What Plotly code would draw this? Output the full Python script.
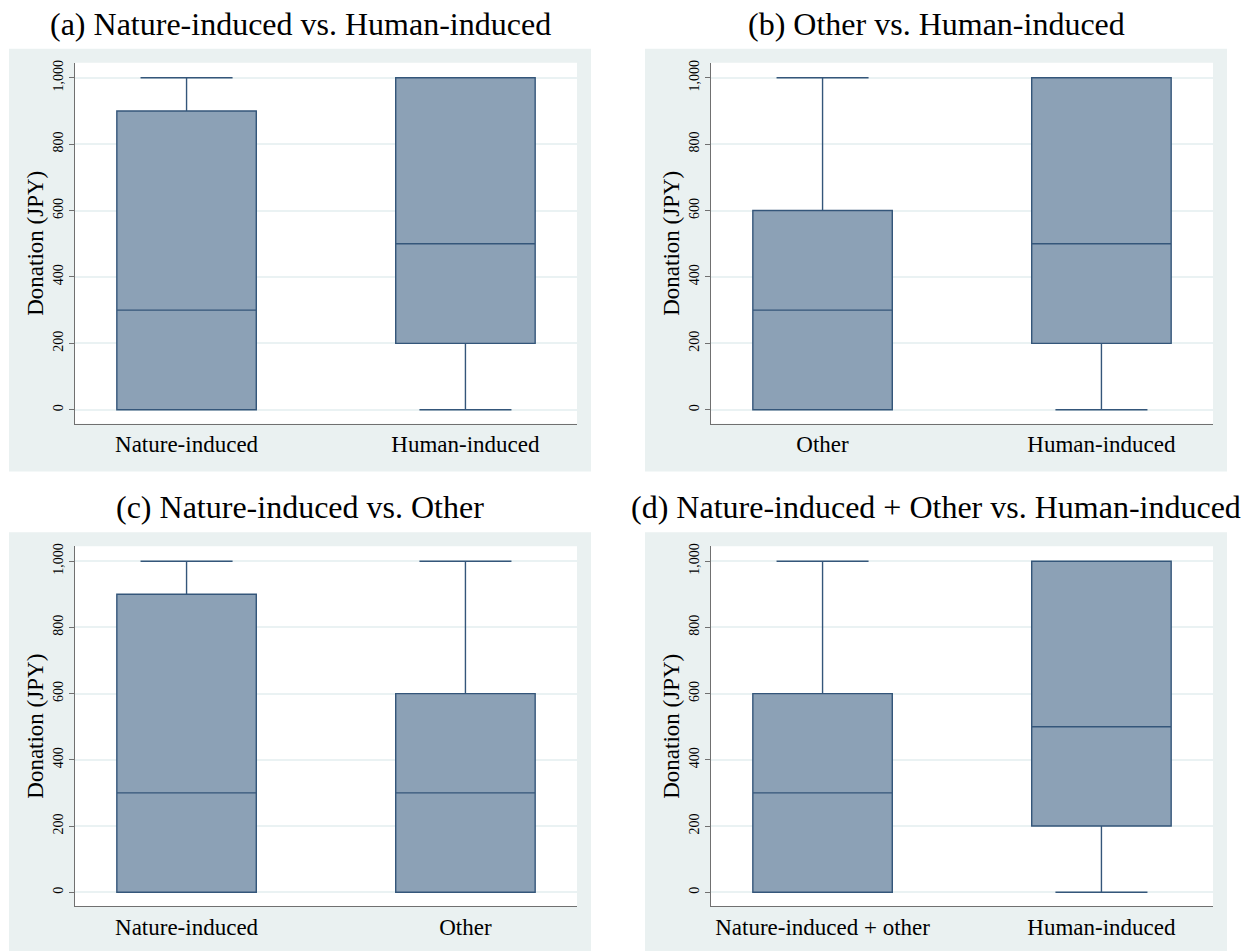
import plotly.graph_objects as go

# ---------------- data ----------------
panel_titles = [
    "(a) Nature-induced vs. Human-induced",
    "(b) Other vs. Human-induced",
    "(c) Nature-induced vs. Other",
    "(d) Nature-induced + Other vs. Human-induced",
]
panel_categories = [
    ["Nature-induced", "Human-induced"],
    ["Other", "Human-induced"],
    ["Nature-induced", "Other"],
    ["Nature-induced + other", "Human-induced"],
]
# box statistics per panel: [first box, second box]
q1_vals = [[0, 200], [0, 200], [0, 0], [0, 200]]
median_vals = [[300, 500], [300, 500], [300, 300], [300, 500]]
q3_vals = [[900, 1000], [600, 1000], [900, 600], [600, 1000]]
lower_vals = [[0, 0], [0, 0], [0, 0], [0, 0]]
upper_vals = [[1000, 1000], [1000, 1000], [1000, 1000], [1000, 1000]]

y_tickvals = [0, 200, 400, 600, 800, 1000]
y_ticktext = ["0", "200", "400", "600", "800", "1,000"]
y_title = "Donation (JPY)"

# ---------------- style ----------------
W, H = 1254, 951
FONT = "Liberation Serif"
BOX_FILL = "#8CA1B6"
BOX_LINE = "#34567A"
BG = "#EAF1F1"
GRID = "#EAF2F3"
AXIS = "#707070"

# pixel geometry of panels
bg_boxes = [(9, 46, 591, 470), (645, 46, 1227, 470), (9, 531, 591, 955), (645, 531, 1227, 955)]
plot_boxes = [(75, 60, 577, 422), (711, 60, 1213, 422), (75, 545, 577, 906), (711, 545, 1213, 906)]
title_y = [21, 21, 506, 506]

def px_x(x):
    return x / W

def px_y(y):
    return 1 - y / H

fig = go.Figure()
shapes = []
annotations = []

for i in range(4):
    n = i + 1
    xa = "x" if n == 1 else f"x{n}"
    ya = "y" if n == 1 else f"y{n}"
    for j, cat in enumerate(panel_categories[i]):
        fig.add_trace(go.Box(
            x=[cat],
            q1=[q1_vals[i][j]], median=[median_vals[i][j]], q3=[q3_vals[i][j]],
            lowerfence=[lower_vals[i][j]], upperfence=[upper_vals[i][j]],
            fillcolor=BOX_FILL, line=dict(color=BOX_LINE, width=1.4),
            width=0.5, whiskerwidth=0.66, boxpoints=False,
            xaxis=xa, yaxis=ya, showlegend=False, hoverinfo="skip",
        ))
    bx0, by0, bx1, by1 = bg_boxes[i]
    shapes.append(dict(type="rect", xref="paper", yref="paper", layer="below",
                       x0=px_x(bx0), x1=px_x(bx1), y0=px_y(by1), y1=px_y(by0),
                       fillcolor=BG, line=dict(width=0)))
    px0, py0, px1, py1 = plot_boxes[i]
    shapes.append(dict(type="rect", xref="paper", yref="paper", layer="below",
                       x0=px_x(px0), x1=px_x(px1), y0=px_y(py1), y1=px_y(py0),
                       fillcolor="white", line=dict(width=0)))
    annotations.append(dict(text=panel_titles[i], xref="paper", yref="paper",
                            x=px_x((bx0 + bx1) / 2), y=px_y(title_y[i]),
                            xanchor="center", yanchor="middle", showarrow=False,
                            font=dict(family=FONT, size=32, color="black")))
    xkey = "xaxis" if n == 1 else f"xaxis{n}"
    ykey = "yaxis" if n == 1 else f"yaxis{n}"
    fig.layout[xkey] = dict(
        domain=[px_x(px0), px_x(px1)], anchor=ya, type="category",
        range=[-0.4, 1.4], showline=True, linecolor=AXIS, linewidth=1.2,
        showgrid=False, ticks="", zeroline=False,
        tickfont=dict(family=FONT, size=23, color="black"),
        categoryorder="array", categoryarray=panel_categories[i],
    )
    fig.layout[ykey] = dict(
        domain=[px_y(py1), px_y(py0)], anchor=xa,
        range=[-42, 1045], showline=True, linecolor=AXIS, linewidth=1.2,
        showgrid=True, gridcolor=GRID, gridwidth=1.5, zeroline=False,
        ticks="outside", ticklen=5, tickcolor=AXIS, tickwidth=1.2,
        tickvals=y_tickvals, ticktext=y_ticktext, tickangle=-90,
        tickfont=dict(family=FONT, size=14, color="black"),
        title=dict(text=y_title, font=dict(family=FONT, size=23, color="black"), standoff=1),
    )

fig.update_layout(
    width=W, height=H, autosize=False,
    margin=dict(l=0, r=0, t=0, b=0),
    paper_bgcolor="white", plot_bgcolor="rgba(0,0,0,0)",
    shapes=shapes, annotations=annotations,
    font=dict(family=FONT),
)

fig.write_html("out.html", config={"displayModeBar": False},
               post_script="document.body.style.margin='0';")
